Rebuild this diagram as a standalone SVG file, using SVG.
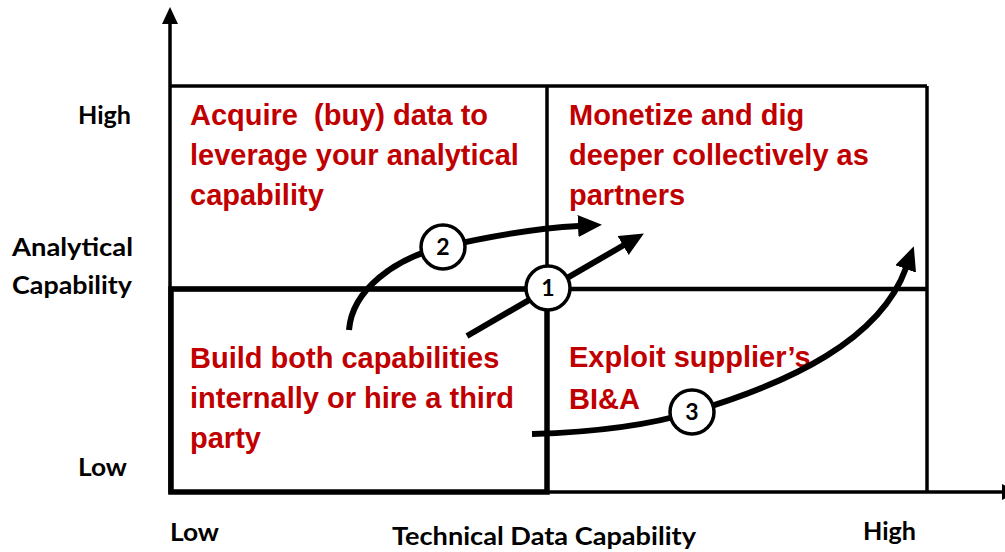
<svg xmlns="http://www.w3.org/2000/svg" width="1005" height="552" viewBox="0 0 1005 552">
  <style>
    .grid { fill: none; stroke: #000; stroke-width: 3.5; }
    .axis { fill: none; stroke: #000; stroke-width: 3.5; }
    .quad { font-family: "Liberation Sans", Arial, sans-serif; font-weight: bold; font-size: 29px; fill: #C00000; }
    .lbl { font-family: Lato, "Open Sans", sans-serif; font-weight: bold; font-size: 25px; fill: #000; }
    .path { fill: none; stroke: #000; stroke-width: 6; stroke-linecap: butt; }
    .step circle { fill: #fff; stroke: #000; stroke-width: 3.5; }
    .step text { font-family: Lato, "Open Sans", sans-serif; font-weight: bold; font-size: 23px; fill: #000; text-anchor: middle; }
  </style>
  <defs>
    <marker id="head" viewBox="0 0 24 22" refX="1" refY="11" markerWidth="24" markerHeight="22" markerUnits="userSpaceOnUse" orient="auto">
      <path d="M0,0 L24,11 L0,22 z" fill="#000"/>
    </marker>
  </defs>

  <rect width="1005" height="552" fill="#fff"/>

  <!-- axes -->
  <g id="axes">
    <line class="axis" x1="170" y1="22" x2="170" y2="494"/>
    <polygon points="162,24 170,7 178,24" fill="#000"/>
    <line class="axis" x1="170" y1="492" x2="1004" y2="492"/>
    <polygon points="1002,484 1018,492 1002,500" fill="#000"/>
  </g>

  <!-- quadrant grid -->
  <g id="grid">
    <line class="grid" x1="170" y1="86" x2="927" y2="86"/>
    <line class="grid" x1="927" y1="86" x2="927" y2="492"/>
    <line class="grid" x1="547" y1="86" x2="547" y2="492"/>
    <line class="grid" x1="170" y1="289" x2="927" y2="289" style="stroke-width:4.5"/>
    <rect x="171" y="289" width="376" height="203" fill="none" stroke="#000" stroke-width="5.5"/>
  </g>

  <!-- axis labels -->
  <g id="labels">
    <text class="lbl" x="78" y="124" textLength="53" lengthAdjust="spacingAndGlyphs">High</text>
    <text class="lbl" x="12" y="256" textLength="121" lengthAdjust="spacingAndGlyphs">Analytical</text>
    <text class="lbl" x="12" y="294" textLength="120" lengthAdjust="spacingAndGlyphs">Capability</text>
    <text class="lbl" x="78" y="476" textLength="49" lengthAdjust="spacingAndGlyphs">Low</text>
    <text class="lbl" x="170" y="541" textLength="49" lengthAdjust="spacingAndGlyphs">Low</text>
    <text class="lbl" x="392" y="545" textLength="304" lengthAdjust="spacingAndGlyphs">Technical Data Capability</text>
    <text class="lbl" x="863" y="540" textLength="53" lengthAdjust="spacingAndGlyphs">High</text>
  </g>

  <!-- quadrant contents -->
  <g id="quadrant-acquire">
    <text class="quad" x="190" y="125">Acquire&#160; (buy) data to</text>
    <text class="quad" x="190" y="165">leverage your analytical</text>
    <text class="quad" x="190" y="205">capability</text>
  </g>
  <g id="quadrant-monetize">
    <text class="quad" x="569" y="125">Monetize and dig</text>
    <text class="quad" x="569" y="165">deeper collectively as</text>
    <text class="quad" x="569" y="205">partners</text>
  </g>
  <g id="quadrant-build">
    <text class="quad" x="190" y="368">Build both capabilities</text>
    <text class="quad" x="190" y="408">internally or hire a third</text>
    <text class="quad" x="190" y="448">party</text>
  </g>
  <g id="quadrant-exploit">
    <text class="quad" x="569" y="367">Exploit supplier’s</text>
    <text class="quad" x="569" y="409">BI&amp;A</text>
  </g>

  <!-- transition paths -->
  <g id="connectors">
    <path class="path" d="M467,336 L624,245" marker-end="url(#head)"/>
    <path class="path" d="M349,330 C352,290 395,258 443,247 C491,236 540,228 579,226" marker-end="url(#head)"/>
    <path class="path" d="M532,434 C600,432 650,425 692,412 C790,383 880,340 906,268" marker-end="url(#head)"/>
  </g>

  <!-- numbered steps -->
  <g id="step-1" class="step">
    <circle cx="548" cy="288" r="22"/>
    <text x="548" y="296">1</text>
  </g>
  <g id="step-2" class="step">
    <circle cx="443" cy="247" r="22"/>
    <text x="443" y="255">2</text>
  </g>
  <g id="step-3" class="step">
    <circle cx="692" cy="412" r="22"/>
    <text x="692" y="420">3</text>
  </g>
</svg>
